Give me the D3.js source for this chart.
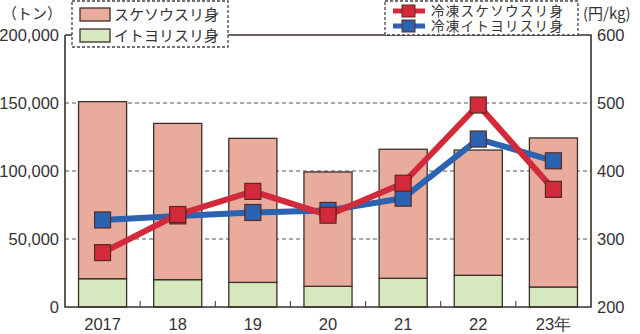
<!DOCTYPE html>
<html>
<head>
<meta charset="utf-8">
<script src="https://cdn.jsdelivr.net/npm/d3@7"></script>
<style>
  body { margin: 0; background: #fff; }
  svg { display: block; font-family: "Liberation Sans", Arial, sans-serif; }
  .jp { font-family: "Noto Sans CJK JP", sans-serif; }
</style>
</head>
<body>
<svg id="chart" width="640" height="334"></svg>
<script>
// DATA
const years = ["2017", "18", "19", "20", "21", "22", "23年"];
const suketouVol = [130200, 114900, 105900, 84100, 94900, 92100, 109600]; // トン
const itoyoriVol = [20800, 20100, 18100, 15200, 21100, 23300, 14700];     // トン
const suketouPrice = [280, 336, 370, 335, 382, 497, 373];  // 円/kg
const itoyoriPrice = [328, 334, 339, 342, 360, 447, 415];  // 円/kg
const leftTicks = [0, 50000, 100000, 150000, 200000];
const rightTicks = [200, 300, 400, 500, 600];

// LAYOUT
const plotLeft = 65, plotRight = 591, plotTop = 35, plotBottom = 307;
const pink = "#e8ab9c", green = "#d7e7be", red = "#d22a3a", blue = "#2b63b0";
const ink = "#3a302c";

const svg = d3.select("#chart");

const x = d3.scaleBand().domain(years).range([plotLeft, plotRight]).paddingInner(0.36).paddingOuter(0.18);
const y = d3.scaleLinear().domain([0, 200000]).range([plotBottom, plotTop]);
const y2 = d3.scaleLinear().domain([200, 600]).range([plotBottom, plotTop]);
const cx = d => x(d) + x.bandwidth() / 2;

// grid lines
svg.append("g")
  .selectAll("line")
  .data(leftTicks.slice(1, -1))
  .join("line")
  .attr("x1", plotLeft).attr("x2", plotRight)
  .attr("y1", d => y(d)).attr("y2", d => y(d))
  .attr("stroke", "#555").attr("stroke-width", 1)
  .attr("stroke-dasharray", "4,3");

// stacked bars
const stacked = years.map((yr, i) => ({ yr, ito: itoyoriVol[i], suke: suketouVol[i] }));
const bars = svg.append("g");
bars.selectAll("rect.ito")
  .data(stacked)
  .join("rect")
  .attr("class", "ito")
  .attr("x", d => x(d.yr)).attr("width", x.bandwidth())
  .attr("y", d => y(d.ito)).attr("height", d => y(0) - y(d.ito))
  .attr("fill", green).attr("stroke", ink).attr("stroke-width", 1.3);
bars.selectAll("rect.suke")
  .data(stacked)
  .join("rect")
  .attr("class", "suke")
  .attr("x", d => x(d.yr)).attr("width", x.bandwidth())
  .attr("y", d => y(d.ito + d.suke)).attr("height", d => y(d.ito) - y(d.ito + d.suke))
  .attr("fill", pink).attr("stroke", ink).attr("stroke-width", 1.3);

// frame / axes
svg.append("path")
  .attr("d", `M${plotLeft},${plotTop}V${plotBottom}H${plotRight}V${plotTop}H${plotLeft}`)
  .attr("fill", "none").attr("stroke", ink).attr("stroke-width", 1.6);

// small ticks between bars
svg.append("g")
  .selectAll("line")
  .data(years.slice(1))
  .join("line")
  .attr("x1", d => x(d) - x.step() * x.paddingInner() / 2)
  .attr("x2", d => x(d) - x.step() * x.paddingInner() / 2)
  .attr("y1", plotBottom).attr("y2", plotBottom - 6)
  .attr("stroke", ink).attr("stroke-width", 1);

// axis labels
svg.append("g")
  .selectAll("text")
  .data(leftTicks)
  .join("text")
  .attr("x", 59).attr("y", d => y(d) + 6)
  .attr("text-anchor", "end").attr("font-size", 16.5).attr("fill", "#333")
  .text(d => d3.format(",")(d));
svg.append("g")
  .selectAll("text")
  .data(rightTicks)
  .join("text")
  .attr("x", 597).attr("y", d => y2(d) + 6)
  .attr("text-anchor", "start").attr("font-size", 16.5).attr("fill", "#333")
  .text(d => d);
svg.append("g")
  .selectAll("text")
  .data(years)
  .join("text")
  .attr("x", d => cx(d)).attr("y", 330)
  .attr("text-anchor", "middle").attr("font-size", 16.5).attr("fill", "#333")
  .text(d => d);

svg.append("text").attr("class", "jp")
  .attr("x", 62).attr("y", 19).attr("text-anchor", "end")
  .attr("font-size", 15).attr("fill", "#333").text("（トン）");
svg.append("text").attr("class", "jp")
  .attr("x", 583).attr("y", 19).attr("text-anchor", "start")
  .attr("font-size", 15).attr("fill", "#333").text("(円/kg)");

// price lines
const line = d3.line().x((d, i) => cx(years[i])).y(d => y2(d));
const series = [
  { name: "冷凍イトヨリスリ身", vals: itoyoriPrice, color: blue },
  { name: "冷凍スケソウスリ身", vals: suketouPrice, color: red }
];
series.forEach(s => {
  svg.append("path").attr("d", line(s.vals))
    .attr("fill", "none").attr("stroke", s.color).attr("stroke-width", 6)
    .attr("stroke-linejoin", "round");
});
series.forEach(s => {
  svg.append("g").selectAll("rect")
    .data(s.vals)
    .join("rect")
    .attr("x", (d, i) => cx(years[i]) - 8).attr("y", d => y2(d) - 8)
    .attr("width", 16).attr("height", 16)
    .attr("fill", s.color).attr("stroke", "#5a2a22").attr("stroke-width", 1.2);
});

// legend 1 (bars)
const lg1 = svg.append("g");
lg1.append("rect").attr("x", 72).attr("y", 1).attr("width", 156).attr("height", 46)
  .attr("fill", "#fff").attr("stroke", "#444").attr("stroke-width", 1.3).attr("stroke-dasharray", "3,2");
[{ label: "スケソウスリ身", color: pink }, { label: "イトヨリスリ身", color: green }].forEach((d, i) => {
  lg1.append("rect").attr("x", 80).attr("y", 8 + i * 21).attr("width", 30).attr("height", 13)
    .attr("fill", d.color).attr("stroke", ink).attr("stroke-width", 1.3);
  lg1.append("text").attr("class", "jp").attr("x", 114).attr("y", 20 + i * 21)
    .attr("font-size", 15).attr("fill", "#333").text(d.label);
});

// legend 2 (lines)
const lg2 = svg.append("g");
lg2.append("rect").attr("x", 385).attr("y", 1).attr("width", 193).attr("height", 34)
  .attr("fill", "#fff").attr("stroke", "#444").attr("stroke-width", 1.3).attr("stroke-dasharray", "3,2");
series.slice().reverse().forEach((d, i) => {
  const ly = 11 + i * 15;
  lg2.append("line").attr("x1", 393).attr("x2", 425).attr("y1", ly).attr("y2", ly)
    .attr("stroke", d.color).attr("stroke-width", 5);
  lg2.append("rect").attr("x", 402).attr("y", ly - 6).attr("width", 13).attr("height", 12)
    .attr("fill", d.color).attr("stroke", "#5a2a22").attr("stroke-width", 1);
  lg2.append("text").attr("class", "jp").attr("x", 431).attr("y", ly + 5)
    .attr("font-size", 13.5).attr("letter-spacing", 1.3).attr("fill", "#333").text(d.name);
});
</script>
</body>
</html>
